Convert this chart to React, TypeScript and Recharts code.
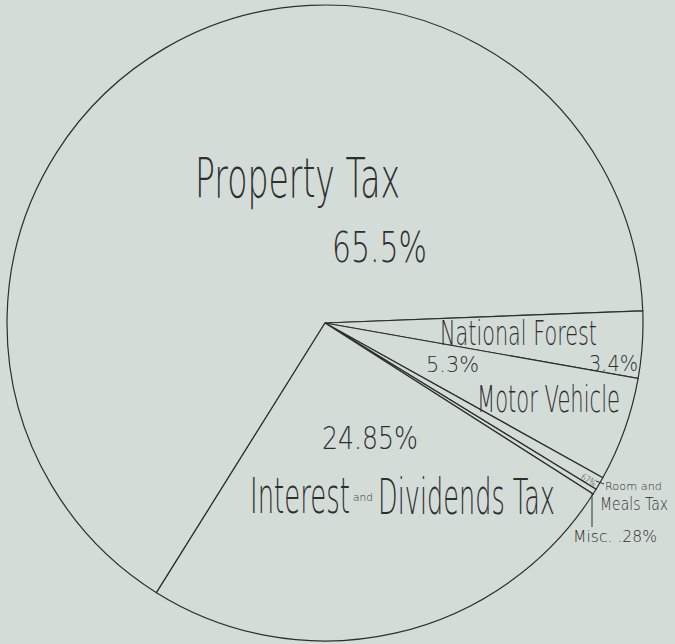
import { PieChart, Pie, Cell } from "recharts";

const sources = ["Property Tax", "National Forest", "Motor Vehicle", "Room and Meals Tax", "Misc.", "Interest and Dividends Tax"];
const shares = [65.5, 3.4, 5.3, 0.67, 0.28, 24.85];
const shareLabels = ["65.5%", "3.4%", "5.3%", ".67%", ".28%", "24.85%"];

const data = sources.map((name, i) => ({ name, value: shares[i] }));

const W = 675;
const H = 644;
const CX = 325;
const CY = 323;
const R = 318;

const BG = "#d4dcd8";
const INK = "#2e2e2e";
const FONT = "'DejaVu Sans', 'Liberation Sans', sans-serif";

// hand-lettered annotations, placed relative to the pie centre (dx, dy = baseline)
type Note = { text: string; dx: number; dy: number; size: number; len?: number; rot?: number };

const notes: Note[][] = [
  [
    { text: sources[0], dx: -130, dy: -126, size: 56, len: 205 },
    { text: shareLabels[0], dx: 7, dy: -61, size: 42, len: 95 },
  ],
  [
    { text: sources[1], dx: 115, dy: 22, size: 34, len: 157 },
    { text: shareLabels[1], dx: 264, dy: 48, size: 22, len: 49 },
  ],
  [
    { text: shareLabels[2], dx: 101, dy: 49, size: 22, len: 53 },
    { text: sources[2], dx: 152, dy: 89, size: 38, len: 143 },
  ],
  [
    { text: shareLabels[3], dx: 253, dy: 155, size: 10, len: 18, rot: 30 },
    { text: "Room and", dx: 280, dy: 167, size: 11, len: 57 },
    { text: "Meals Tax", dx: 275, dy: 187, size: 17, len: 68 },
  ],
  [{ text: "Misc. " + shareLabels[4], dx: 248, dy: 219, size: 16, len: 84 }],
  [
    { text: shareLabels[5], dx: -3, dy: 126, size: 32, len: 96 },
    { text: "Interest", dx: -75, dy: 190, size: 50, len: 100 },
    { text: "and", dx: 28, dy: 178, size: 11, len: 20 },
    { text: "Dividends Tax", dx: 53, dy: 191, size: 50, len: 177 },
  ],
];

// leader strokes for the two thin slices
const leaders: number[][][] = [[], [], [], [[271, 158, 279, 161]], [[267, 170, 267, 204]], []];

function renderNotes(props: any) {
  const cx = props.cx ?? CX;
  const cy = props.cy ?? CY;
  const i = props.index;
  return (
    <g key={"n" + i}>
      {notes[i].map((n, k) => {
        const x = cx + n.dx;
        const y = cy + n.dy;
        return (
          <text
            key={k}
            x={x}
            y={y}
            fontSize={n.size}
            fontFamily={FONT}
            fontWeight={200}
            fill={INK}
            textLength={n.len}
            lengthAdjust="spacingAndGlyphs"
            transform={n.rot ? `rotate(${n.rot} ${x} ${y})` : undefined}
          >
            {n.text}
          </text>
        );
      })}
      {leaders[i].map((l, k) => (
        <line key={"l" + k} x1={cx + l[0]} y1={cy + l[1]} x2={cx + l[2]} y2={cy + l[3]} stroke={INK} strokeWidth={1} />
      ))}
    </g>
  );
}

export default function App() {
  return (
    <div style={{ position: "absolute", left: 0, top: 0, width: W, height: H, background: BG }}>
      <PieChart width={W} height={H} margin={{ top: 0, right: 0, bottom: 0, left: 0 }}>
        <Pie
          data={data}
          dataKey="value"
          nameKey="name"
          cx={CX}
          cy={CY}
          outerRadius={R}
          startAngle={238}
          endAngle={-122}
          stroke={INK}
          strokeWidth={1.2}
          label={renderNotes}
          labelLine={false}
          isAnimationActive={false}
        >
          {data.map((d) => (
            <Cell key={d.name} fill={BG} />
          ))}
        </Pie>
      </PieChart>
    </div>
  );
}
